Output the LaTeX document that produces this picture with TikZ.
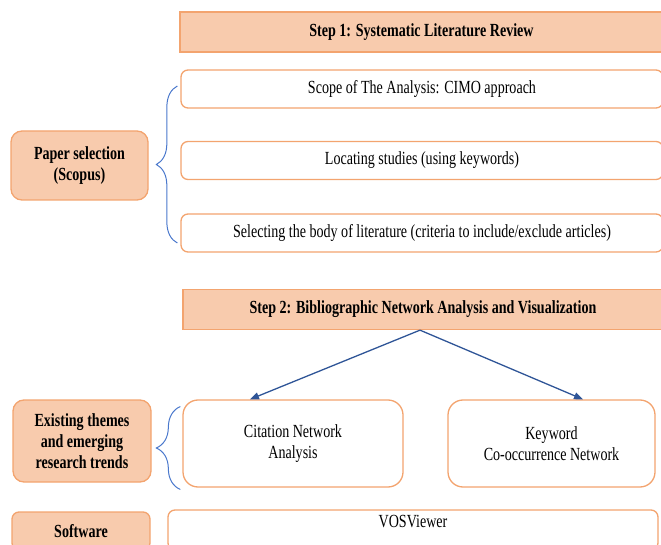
\documentclass[tikz,border=0pt]{standalone}
\usepackage{fontspec}
\setmainfont{Liberation Serif}[FakeStretch=0.76]
\usetikzlibrary{arrows.meta,decorations.pathreplacing}
\definecolor{boxfill}{HTML}{F8CBAD}
\definecolor{boxline}{HTML}{F3A46F}
\definecolor{bracecol}{HTML}{4A78CC}
\definecolor{arrowcol}{HTML}{2F5597}

\begin{document}
\begin{tikzpicture}[x=1pt, y=1pt,
    font=\fontsize{18.5}{21}\selectfont,
    stepbox/.style={draw=boxline, line width=1.3pt, fill=boxfill, font=\fontsize{18.5}{21}\selectfont\bfseries, minimum height=40pt, inner sep=0pt},
    taskbox/.style={draw=boxline, line width=1.3pt, fill=white, rounded corners=7pt, minimum height=38pt, inner sep=0pt},
    sidebox/.style={draw=boxline, line width=1.3pt, fill=boxfill, rounded corners=11pt, align=center, font=\fontsize{18.5}{21}\selectfont\bfseries, inner sep=0pt},
    netbox/.style={draw=boxline, line width=1.3pt, fill=white, rounded corners=15pt, align=center, minimum height=87pt, inner sep=0pt},
    flow/.style={arrowcol, line width=1.3pt, -{Triangle[length=9pt,width=7pt]}},
    grp/.style={bracecol, line width=1pt, decorate, decoration={brace, amplitude=21pt}}
]
\useasboundingbox (0,0) rectangle (661,544);
\clip (0,0) rectangle (661,544);

% Step 1
\node[stepbox, minimum width=483pt] (step1) at (421.5,512) {Step 1: Systematic Literature Review};
\node[taskbox, minimum width=482pt] (scope) at (422,455) {Scope of The Analysis: CIMO approach};
\node[taskbox, minimum width=482pt] (locate) at (422,383.5) {Locating studies (using keywords)};
\node[taskbox, minimum width=482pt] (select) at (422,311) {Selecting the body of literature (criteria to include/exclude articles)};

\node[sidebox, minimum width=137pt, minimum height=69pt] (paper) at (79.5,378.5) {Paper selection\\(Scopus)};

\draw[grp] ([shift={(-3pt,-10pt)}]select.west) -- ([shift={(-3pt,3pt)}]scope.west);

% Step 2
\node[stepbox, minimum width=480pt] (step2) at (423,234.5) {Step 2: Bibliographic Network Analysis and Visualization};
\node[netbox, minimum width=220pt] (cit) at (293,100.5) {Citation Network\\Analysis};
\node[netbox, minimum width=207pt] (key) at (551.5,100.5) {Keyword\\Co-occurrence Network};

\node[sidebox, minimum width=138pt, minimum height=82pt] (themes) at (82,103) {Existing themes\\and emerging\\research trends};

\draw[grp, decoration={amplitude=24pt}] ([shift={(-2pt,-46pt)}]cit.west) -- ([shift={(-2pt,37pt)}]cit.west);

% Connections
\draw[flow] ([xshift=-3pt]step2.south) -- ([xshift=-43pt]cit.north);
\draw[flow] ([xshift=-3pt]step2.south) -- ([xshift=31.5pt]key.north);

% Software
\node[sidebox, rounded corners=7pt, minimum width=138pt, minimum height=38pt] (soft) at (81,13) {Software};
\node[taskbox, minimum width=490pt, minimum height=40pt, text depth=18pt] (vos) at (413,14) {VOSViewer};

\end{tikzpicture}
\end{document}
